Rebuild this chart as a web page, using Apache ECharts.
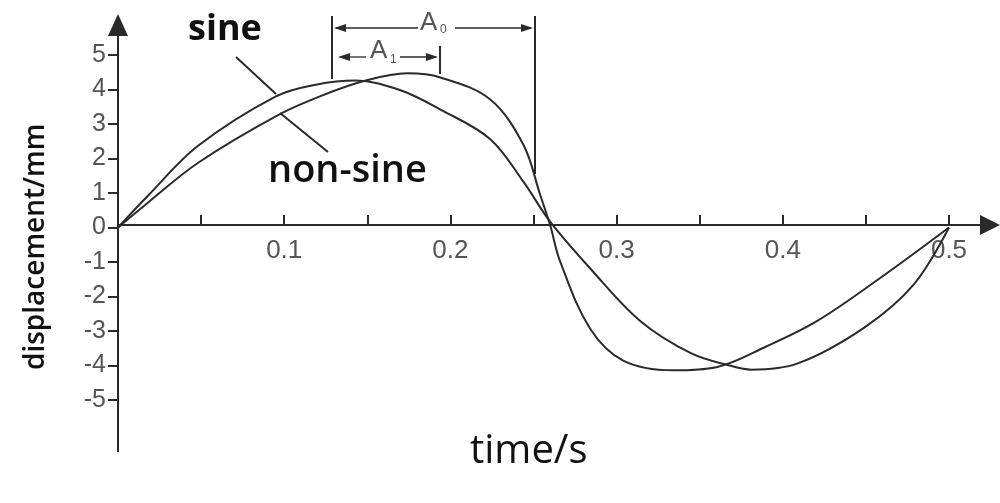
<!DOCTYPE html>
<html><head><meta charset="utf-8">
<script src="https://cdn.jsdelivr.net/npm/echarts@6/dist/echarts.min.js"></script>
<style>html,body{margin:0;background:#fff}#chart{width:1000px;height:503px}</style>
</head><body><div id="chart"></div>
<script>
// time in s, displacement in mm
const sineT = [0, 0.018, 0.048, 0.095, 0.119, 0.143, 0.17, 0.194, 0.224, 0.244, 0.26, 0.284, 0.314, 0.345, 0.368, 0.381, 0.409, 0.449, 0.479, 0.5];
const sineY = [0, 0.92, 2.36, 3.8, 4.14, 4.26, 3.98, 3.42, 2.56, 1.32, 0.17, -1.18, -2.7, -3.65, -4.0, -4.12, -3.94, -2.9, -1.64, 0];
const nonSineT = [0, 0.018, 0.048, 0.096, 0.123, 0.149, 0.174, 0.194, 0.224, 0.244, 0.254, 0.26, 0.266, 0.284, 0.304, 0.334, 0.36, 0.39, 0.421, 0.459, 0.5];
const nonSineY = [0, 0.72, 1.87, 3.25, 3.83, 4.26, 4.47, 4.35, 3.71, 2.39, 0.95, 0.07, -0.98, -2.93, -3.86, -4.14, -4.05, -3.45, -2.7, -1.45, 0];
const xLabels = ['0.1', '0.2', '0.3', '0.4', '0.5'];

const chart = echarts.init(document.getElementById('chart'));
const ink = '#2a2a2a';
const pair = (t, y) => t.map((v, i) => [v, y[i]]);

chart.setOption({
    animation: false,
    grid: {left: 118, right: 51, top: 55, bottom: 103},
    xAxis: {
        type: 'value', min: 0, max: 0.5, interval: 0.05,
        offset: -175,
        axisLine: {show: false, onZero: false},
        axisTick: {inside: true, length: 10, lineStyle: {color: ink, width: 2}},
        splitLine: {show: false},
        axisLabel: {
            margin: 13, fontSize: 26, color: '#555', fontFamily: 'Liberation Sans',
            formatter: v => {
                const s = (Math.round(v * 100) / 100).toString();
                return xLabels.includes(s) ? s : '';
            }
        }
    },
    yAxis: {
        type: 'value', min: -5, max: 5, interval: 1,
        axisLine: {show: false},
        axisTick: {show: true, length: 10, lineStyle: {color: ink, width: 2}},
        splitLine: {show: false},
        axisLabel: {margin: 12, fontSize: 25, color: '#555', fontFamily: 'Liberation Sans'}
    },
    series: [
        {type: 'line', smooth: 0.35, symbol: 'none', data: pair(sineT, sineY), lineStyle: {color: ink, width: 2}},
        {type: 'line', smooth: 0.35, symbol: 'none', data: pair(nonSineT, nonSineY), lineStyle: {color: ink, width: 2}}
    ],
    graphic: [
        // axes with arrows
        {type: 'line', shape: {x1: 118, y1: 30, x2: 118, y2: 452}, style: {stroke: ink, lineWidth: 2}},
        {type: 'polygon', shape: {points: [[108, 36], [128, 36], [118, 14]]}, style: {fill: ink}},
        {type: 'line', shape: {x1: 118, y1: 225, x2: 985, y2: 225}, style: {stroke: ink, lineWidth: 2}},
        {type: 'polygon', shape: {points: [[980, 215], [980, 235], [1000, 225]]}, style: {fill: ink}},
        // axis names
        {type: 'text', x: 22, y: 370, rotation: Math.PI / 2, style: {text: 'displacement/mm', font: '600 28px "Open Sans"', fill: '#111'}},
        {type: 'text', x: 470, y: 432, style: {text: 'time/s', font: '500 40px "Open Sans"', fill: '#111'}},
        {type: 'text', x: 188, y: 12, style: {text: 'sine', font: 'bold 36px "Open Sans"', fill: '#111'}},
        {type: 'text', x: 268, y: 152, style: {text: 'non-sine', font: '600 38px "Open Sans"', fill: '#111'}},
        {type: 'line', shape: {x1: 236, y1: 57, x2: 276, y2: 94}, style: {stroke: ink, lineWidth: 2}},
        {type: 'line', shape: {x1: 280, y1: 113, x2: 328, y2: 152}, style: {stroke: ink, lineWidth: 2}},
        // A0 / A1 brackets
        {type: 'line', shape: {x1: 332, y1: 16, x2: 332, y2: 79}, style: {stroke: ink, lineWidth: 2}},
        {type: 'line', shape: {x1: 535, y1: 16, x2: 535, y2: 174}, style: {stroke: ink, lineWidth: 2}},
        {type: 'line', shape: {x1: 440, y1: 46, x2: 440, y2: 74}, style: {stroke: ink, lineWidth: 2}},
        {type: 'line', shape: {x1: 336, y1: 28, x2: 418, y2: 28}, style: {stroke: ink, lineWidth: 1.3}},
        {type: 'line', shape: {x1: 455, y1: 28, x2: 531, y2: 28}, style: {stroke: ink, lineWidth: 1.3}},
        {type: 'polygon', shape: {points: [[334, 28], [346, 24], [346, 32]]}, style: {fill: ink}},
        {type: 'polygon', shape: {points: [[533, 28], [521, 24], [521, 32]]}, style: {fill: ink}},
        {type: 'text', x: 420, y: 10, style: {text: 'A', font: '26px "Liberation Sans"', fill: '#555'}},
        {type: 'text', x: 440, y: 24, style: {text: '0', font: '12px "Liberation Sans"', fill: '#555'}},
        {type: 'line', shape: {x1: 340, y1: 57, x2: 366, y2: 57}, style: {stroke: ink, lineWidth: 1.3}},
        {type: 'line', shape: {x1: 400, y1: 57, x2: 436, y2: 57}, style: {stroke: ink, lineWidth: 1.3}},
        {type: 'polygon', shape: {points: [[338, 57], [350, 53], [350, 61]]}, style: {fill: ink}},
        {type: 'polygon', shape: {points: [[438, 57], [426, 53], [426, 61]]}, style: {fill: ink}},
        {type: 'text', x: 370, y: 38, style: {text: 'A', font: '26px "Liberation Sans"', fill: '#555'}},
        {type: 'text', x: 390, y: 54, style: {text: '1', font: '12px "Liberation Sans"', fill: '#555'}}
    ]
});
</script></body></html>
